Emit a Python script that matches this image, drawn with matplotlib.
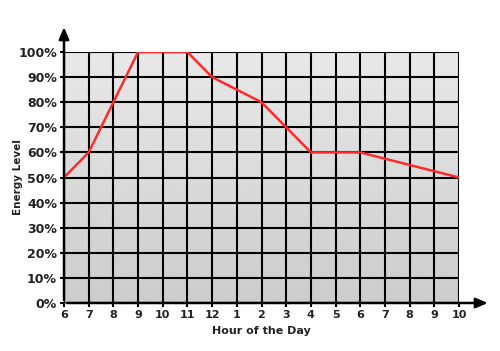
import matplotlib
matplotlib.use("Agg")
import matplotlib.pyplot as plt
import numpy as np

hours = ["6", "7", "8", "9", "10", "11", "12", "1", "2", "3", "4", "5", "6", "7", "8", "9", "10"]
energy = [50, 60, 80, 100, 100, 100, 90, 85, 80, 70, 60, 60, 60, 57.5, 55, 52.5, 50]
yticks = list(range(0, 101, 10))

fig = plt.figure(figsize=(5, 3.51), dpi=100)
ax = fig.add_axes([0.128, 0.1368, 0.79, 0.715])
x = np.arange(len(hours))
ax.set_xlim(0, len(hours) - 1)
ax.set_ylim(0, 100)

grad = np.linspace(0.80, 0.91, 256).reshape(-1, 1)
ax.imshow(grad, extent=[0, len(hours) - 1, 0, 100], origin="lower", aspect="auto",
          cmap="gray", vmin=0, vmax=1, zorder=0)

for xi in x:
    ax.axvline(xi, color="black", lw=1.5, zorder=1)
for yi in yticks:
    ax.axhline(yi, color="black", lw=1.5, zorder=1)

ax.plot(x, energy, color="#ff2a2a", lw=1.8, zorder=3)

for s in ax.spines.values():
    s.set_visible(False)

ax.annotate("", xy=(1.08, 0), xytext=(0, 0), xycoords="axes fraction",
            arrowprops=dict(arrowstyle="-|>,head_length=0.7,head_width=0.3", color="black", lw=1.8),
            annotation_clip=False)
ax.annotate("", xy=(0, 1.11), xytext=(0, 0), xycoords="axes fraction",
            arrowprops=dict(arrowstyle="-|>,head_length=0.7,head_width=0.3", color="black", lw=1.8),
            annotation_clip=False)

ax.set_xticks(x)
ax.set_xticklabels(hours, fontsize=8, fontweight="bold", color="#222222")
ax.set_yticks(yticks)
ax.set_yticklabels([f"{v}%" for v in yticks], fontsize=9, fontweight="bold", color="#222222")
ax.tick_params(axis="both", length=3, width=1.5, color="black", pad=2)
ax.set_xlabel("Hour of the Day", fontsize=8, fontweight="bold", color="#222222")
ax.set_ylabel("Energy Level", fontsize=7.5, fontweight="bold", color="#222222")
ax.xaxis.set_label_coords(0.5, -0.09)
ax.yaxis.set_label_coords(-0.104, 0.5)

fig.savefig("out.png", dpi=100)
